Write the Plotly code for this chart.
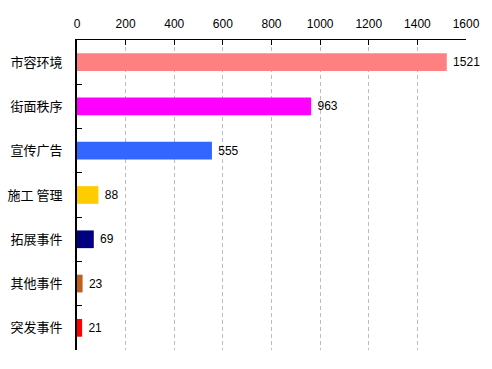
import plotly.graph_objects as go

categories = ["市容环境", "街面秩序", "宣传广告", "施工 管理", "拓展事件", "其他事件", "突发事件"]
values = [1521, 963, 555, 88, 69, 23, 21]
colors = ["#FF8080", "#FF00FF", "#3366FF", "#FFCC00", "#000080", "#C0601E", "#FF0000"]
x_ticks = [0, 200, 400, 600, 800, 1000, 1200, 1400, 1600]

fig = go.Figure(go.Bar(
    x=values, y=categories, orientation="h",
    marker=dict(color=colors, line=dict(width=0)),
    width=0.4,
    texttemplate="\u00a0%{x}", textposition="outside",
    textfont=dict(family="Liberation Sans", size=12, color="#000000"),
    cliponaxis=False,
))

fig.update_layout(
    width=492, height=369,
    margin=dict(l=77, r=26, t=40, b=19, autoexpand=False),
    paper_bgcolor="white", plot_bgcolor="white",
    showlegend=False,
    font=dict(family="Noto Sans CJK SC, Liberation Sans", size=12, color="#000000"),
)
fig.update_xaxes(
    side="top", range=[0, 1600], tickvals=x_ticks,
    showgrid=True, gridcolor="#BBBBBB", griddash="4px,3px", gridwidth=1,
    showline=True, linecolor="#000000", linewidth=1,
    ticks="inside", ticklen=5, tickcolor="#000000",
    tickfont=dict(family="Liberation Sans", size=12),
    ticklabelstandoff=6,
    zeroline=False, fixedrange=True, automargin=False,
)
fig.update_yaxes(
    autorange="reversed", showgrid=False,
    showline=True, linecolor="#000000", linewidth=2,
    ticks="inside", ticklen=5, tickcolor="#000000", tickson="boundaries",
    tickfont=dict(family="Noto Sans CJK SC", size=13),
    ticklabelstandoff=10, automargin=False, fixedrange=True,
)

fig.write_html("out.html", config={"displayModeBar": False, "staticPlot": True},
               post_script="document.body.style.margin='0';")
